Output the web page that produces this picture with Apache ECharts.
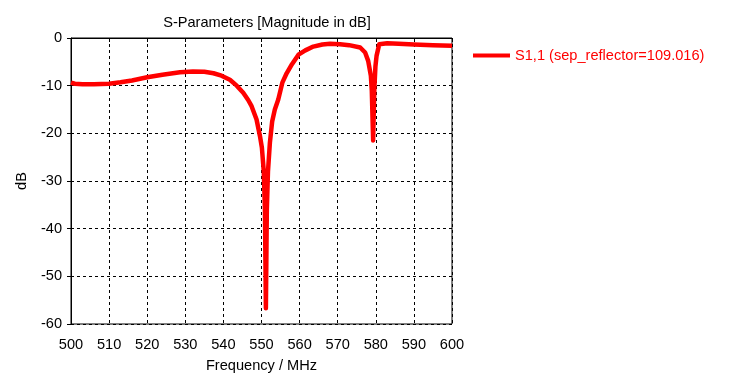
<!DOCTYPE html>
<html><head><meta charset="utf-8">
<script src="https://cdn.jsdelivr.net/npm/echarts@6/dist/echarts.min.js"></script>
<style>html,body{margin:0;padding:0;background:#fff}#c{width:737px;height:378px}</style>
</head><body><div id="c"></div>
<script>
const freqMHz = [500, 501, 503, 506, 510, 513, 516, 520, 524, 528.6, 532, 535, 537.4, 539.5, 541.7, 543.5, 545.2, 546.5, 547.4, 548.7, 549.6, 550.1, 550.6, 550.9, 551.15, 551.4, 551.7, 552.2, 552.8, 553.5, 554.4, 555.5, 556.6, 558, 559.7, 561.5, 563.6, 566, 568, 570.6, 573, 575.9, 577.2, 578, 578.7, 578.95, 579.3, 579.6, 579.9, 580.2, 580.9, 583, 586, 590, 595, 600];
const s11dB = [-9.35, -9.6, -9.7, -9.7, -9.6, -9.3, -8.9, -8.25, -7.7, -7.2, -7.05, -7.1, -7.4, -7.9, -8.75, -10, -11.5, -13, -14.3, -17.1, -20.6, -23, -28, -36, -56.7, -36, -28, -22, -17.5, -15, -12.9, -9.3, -7.4, -5.5, -3.5, -2.6, -1.8, -1.35, -1.2, -1.3, -1.5, -2, -3.05, -4.8, -7.9, -11, -21.5, -11, -6, -3.75, -1.3, -1.1, -1.2, -1.35, -1.5, -1.65];
const seriesName = 'S1,1 (sep_reflector=109.016)';
const titleText = 'S-Parameters [Magnitude in dB]';
const xName = 'Frequency / MHz';
const yName = 'dB';

const font = 'Liberation Sans';
const fs = 14.6;
const chart = echarts.init(document.getElementById('c'), null, {renderer: 'canvas'});
chart.setOption({
  animation: false,
  backgroundColor: '#fff',
  title: {text: titleText, left: 262, top: 10, textAlign: 'center',
    textStyle: {fontFamily: font, fontSize: fs, fontWeight: 'normal', color: '#000'}},
  legend: {left: 468, top: 43, itemWidth: 37, itemHeight: 4, icon: 'rect', itemGap: 6,
    textStyle: {fontFamily: font, fontSize: fs, color: '#ff0000'},
    data: [seriesName]},
  grid: {left: 71, right: 285, top: 38, bottom: 52, show: true, borderColor: '#000', borderWidth: 1},
  xAxis: {type: 'value', min: 500, max: 600, interval: 10,
    name: xName, nameLocation: 'middle', nameGap: 34,
    nameTextStyle: {fontFamily: font, fontSize: fs, color: '#000'},
    axisLine: {show: true, lineStyle: {color: '#000'}},
    axisTick: {show: true, length: 4, lineStyle: {color: '#000'}},
    axisLabel: {fontFamily: font, fontSize: fs, color: '#000', margin: 13},
    splitLine: {show: true, lineStyle: {color: '#000', type: [3, 3], width: 1}}},
  yAxis: {type: 'value', min: -60, max: 0, interval: 10,
    name: yName, nameLocation: 'middle', nameGap: 42, nameRotate: 90,
    nameTextStyle: {fontFamily: font, fontSize: fs, color: '#000'},
    axisLine: {show: true, lineStyle: {color: '#000'}},
    axisTick: {show: true, length: 4, lineStyle: {color: '#000'}},
    axisLabel: {fontFamily: font, fontSize: fs, color: '#000', margin: 9},
    splitLine: {show: true, lineStyle: {color: '#000', type: [3, 3], width: 1}}},
  series: [{name: seriesName, type: 'line', showSymbol: false, symbol: 'none',
    lineStyle: {color: '#ff0000', width: 4.5, join: 'round'}, itemStyle: {color: '#ff0000'},
    data: freqMHz.map((f, i) => [f, s11dB[i]])}]
});
</script></body></html>
